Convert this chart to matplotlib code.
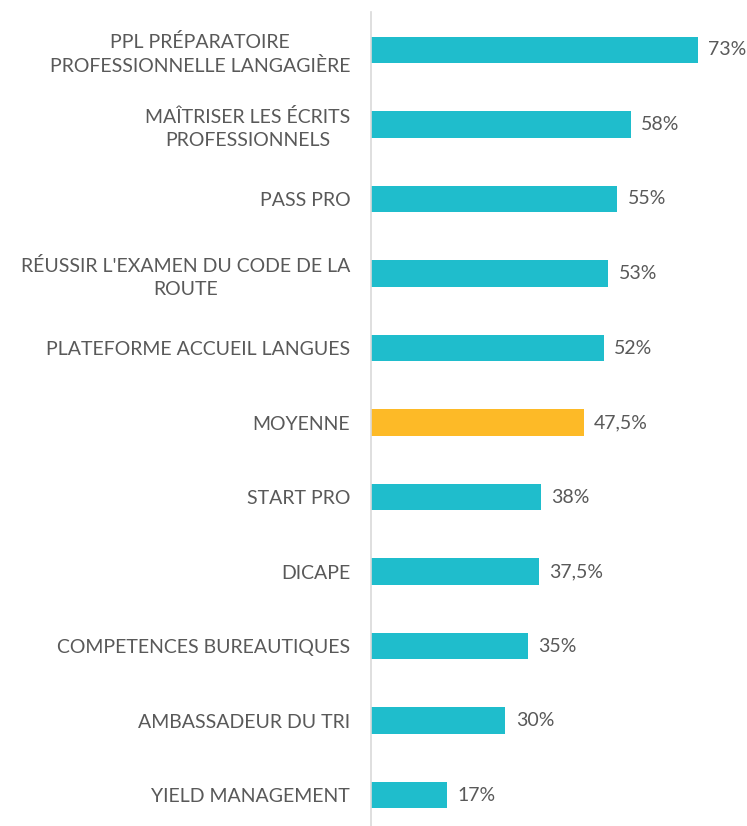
import matplotlib.pyplot as plt

# Chart data, top to bottom
categories = [
    "PPL PRÉPARATOIRE\nPROFESSIONNELLE LANGAGIÈRE",
    "MAÎTRISER LES ÉCRITS\nPROFESSIONNELS",
    "PASS PRO",
    "RÉUSSIR L'EXAMEN DU CODE DE LA\nROUTE",
    "PLATEFORME ACCUEIL LANGUES",
    "MOYENNE",
    "START PRO",
    "DICAPE",
    "COMPETENCES BUREAUTIQUES",
    "AMBASSADEUR DU TRI",
    "YIELD MANAGEMENT",
]
values = [73, 58, 55, 53, 52, 47.5, 38, 37.5, 35, 30, 17]
value_labels = ["73%", "58%", "55%", "53%", "52%", "47,5%", "38%", "37,5%", "35%", "30%", "17%"]

teal = "#1FBDCC"
gold = "#FDBA27"
text_grey = "#595959"

plt.rcParams['font.family'] = ['Lato', 'DejaVu Sans']

fig = plt.figure(figsize=(7.47, 8.26), dpi=100)
ax = fig.add_axes([371 / 747, 0.0, 358 / 747, 814 / 826])

colors = [gold if c == "MOYENNE" else teal for c in categories]
ypos = list(range(len(categories)))
ax.barh(ypos, values, height=0.35, color=colors)

for y, v, lab in zip(ypos, values, value_labels):
    ax.annotate(lab, (v, y), xytext=(7.5, 0), textcoords="offset points",
                ha="left", va="center", fontsize=14, color=text_grey)

ax.set_xlim(0, 80)
ax.set_ylim(10.416, -0.51)
ax.set_yticks(ypos)
ax.set_yticklabels(categories, fontsize=14, color=text_grey,
                   multialignment="center", linespacing=1.4)
ax.tick_params(axis="y", length=0, pad=15)
ax.set_xticks([])

for side in ["top", "right", "bottom"]:
    ax.spines[side].set_visible(False)
ax.spines["left"].set_color("#D9D9D9")
ax.spines["left"].set_linewidth(1.2)

fig.savefig("out.png", dpi=100)
